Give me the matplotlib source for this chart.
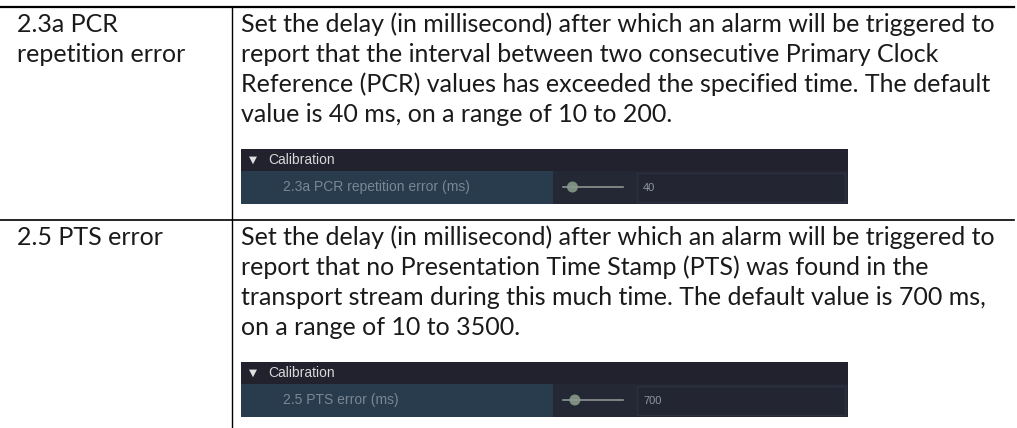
import matplotlib.pyplot as plt
from matplotlib.patches import Rectangle, Circle

# Table content
names = [["2.3a PCR", "repetition error"], ["2.5 PTS error"]]
descriptions = [
    ["Set the delay (in millisecond) after which an alarm will be triggered to",
     "report that the interval between two consecutive Primary Clock",
     "Reference (PCR) values has exceeded the specified time. The default",
     "value is 40 ms, on a range of 10 to 200."],
    ["Set the delay (in millisecond) after which an alarm will be triggered to",
     "report that no Presentation Time Stamp (PTS) was found in the",
     "transport stream during this much time. The default value is 700 ms,",
     "on a range of 10 to 3500."],
]
ui_labels = ["2.3a PCR repetition error (ms)", "2.5 PTS error (ms)"]
defaults = [40, 700]
ranges = [(10, 200), (10, 3500)]

W, H = 1017, 428
fig = plt.figure(figsize=(W / 100, H / 100), dpi=100)
ax = fig.add_axes([0, 0, 1, 1])
ax.set_xlim(0, W)
ax.set_ylim(H, 0)
ax.axis("off")

font = ["Lato", "DejaVu Sans"]
fs = 18

# table rules
ax.plot([0, 1014], [7, 7], color="black", lw=1.6)
ax.plot([0, 1014], [220, 220], color="black", lw=1.2)
ax.plot([232, 232], [7, H], color="black", lw=1.0)

row_top = [7, 220]
for i in range(2):
    y0 = row_top[i]
    for j, line in enumerate(names[i]):
        ax.text(17, y0 + 25 + 30 * j, line, fontsize=fs, family=font,
                va="baseline", ha="left", color="#1a1a1a")
    for j, line in enumerate(descriptions[i]):
        ax.text(241, y0 + 25 + 30 * j, line, fontsize=fs, family=font,
                va="baseline", ha="left", color="#1a1a1a")

    # settings panel screenshot
    top = y0 + 142
    ax.add_patch(Rectangle((241, top), 607, 55, facecolor="#21222e", edgecolor="none"))
    ax.add_patch(Rectangle((241, top + 22), 607, 33, facecolor="#242734", edgecolor="none"))
    ax.add_patch(Rectangle((241, top + 22), 312, 33, facecolor="#283c4e", edgecolor="none"))
    ax.text(249, top + 11, "\u25bc", fontsize=7.5, family="DejaVu Sans",
            color="#e0e0e0", va="center", ha="left")
    ax.text(268, top + 11, "Calibration", fontsize=10, family="Liberation Sans",
            color="#d8d8d8", va="center", ha="left")
    ax.text(283, top + 38, ui_labels[i], fontsize=10, family="Liberation Sans",
            color="#7a8794", va="center", ha="left")
    # slider
    lo, hi = ranges[i]
    sx0, sx1 = 563, 623
    ax.plot([sx0, sx1], [top + 38, top + 38], color="#8d958f", lw=1.2)
    kx = sx0 + (defaults[i] - lo) / (hi - lo) * (sx1 - sx0)
    ax.add_patch(Circle((kx, top + 38), 5.5, facecolor="#7c8f7e", edgecolor="none"))
    # value box
    ax.add_patch(Rectangle((637, top + 24), 208, 29, facecolor="#232533",
                           edgecolor="#2d303f", lw=1))
    ax.text(643, top + 39, str(defaults[i]), fontsize=8, family="Liberation Sans",
            color="#8e96a0", va="center", ha="left")

plt.savefig("out.png", dpi=100)
